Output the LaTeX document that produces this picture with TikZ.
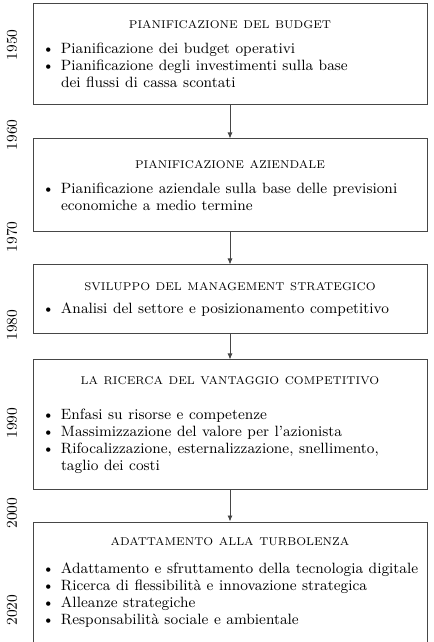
\documentclass[tikz,border=0pt]{standalone}
\usepackage{xcolor}
\usepackage{tikz}
\usetikzlibrary{arrows.meta,positioning}
\definecolor{bordo}{RGB}{70,70,70}

\newcommand{\titolo}[2][4.8pt]{{\centering\fontsize{6.75}{7.8}\selectfont #2\par}\vspace{#1}}
\newcommand{\voce}[1]{{\fontsize{8.95}{10.2}\selectfont\leftskip=16.8pt\rightskip=0pt plus 1fil\parindent=0pt\noindent\llap{\textbullet\hspace{4pt}}#1\par}}

\begin{document}
\begin{tikzpicture}[
    x=0.6pt, y=0.6pt,
    node distance=18pt,
    block/.style={rectangle, draw=bordo, line width=0.6pt, text width=236.4pt, inner xsep=0pt, inner ysep=0pt, align=left},
    year/.style={rotate=90, font=\fontsize{9}{9}\selectfont},
    line/.style={draw=bordo, line width=0.5pt, -{Latex[length=3.6pt,width=3pt]}}
]
\useasboundingbox (0,0) rectangle (433,-642);

\node [block, minimum height=60.6pt] at (230,-54.5) (budget) {\titolo{PIANIFICAZIONE DEL BUDGET}
  \voce{Pianificazione dei budget operativi}
  \voce{Pianificazione degli investimenti sulla base\newline dei flussi di cassa scontati}};
\node [block, minimum height=55.8pt, below=19.8pt of budget] (aziendale) {\titolo{PIANIFICAZIONE AZIENDALE}
  \voce{Pianificazione aziendale sulla base delle previsioni\newline economiche a medio termine}};
\node [block, minimum height=41.4pt, below=19.2pt of aziendale] (strategico) {\titolo[3.6pt]{SVILUPPO DEL MANAGEMENT STRATEGICO}
  \voce{Analisi del settore e posizionamento competitivo}};
\node [block, minimum height=78pt, below=15pt of strategico] (vantaggio) {\titolo[10.8pt]{LA RICERCA DEL VANTAGGIO COMPETITIVO}
  \voce{Enfasi su risorse e competenze}
  \voce{Massimizzazione del valore per l'azionista}
  \voce{Rifocalizzazione, esternalizzazione, snellimento,\newline taglio dei costi}};
\node [block, minimum height=72pt, below=18.6pt of vantaggio] (turbolenza) {\titolo[6.6pt]{ADATTAMENTO ALLA TURBOLENZA}
  \voce{Adattamento e sfruttamento della tecnologia digitale}
  \voce{Ricerca di flessibilità e innovazione strategica}
  \voce{Alleanze strategiche}
  \voce{Responsabilità sociale e ambientale}};

\node [year] at (12,-45) (a1950) {1950};
\node [year] at (12,-135) (a1960) {1960};
\node [year] at (12,-237) (a1970) {1970};
\node [year] at (12,-325) (a1980) {1980};
\node [year] at (12,-423) (a1990) {1990};
\node [year] at (12,-513) (a2000) {2000};
\node [year] at (12,-610) (a2020) {2020};

\path [line] (budget) -- (aziendale);
\path [line] (aziendale) -- (strategico);
\path [line] (strategico) -- (vantaggio);
\path [line] (vantaggio) -- (turbolenza);

\end{tikzpicture}
\end{document}
